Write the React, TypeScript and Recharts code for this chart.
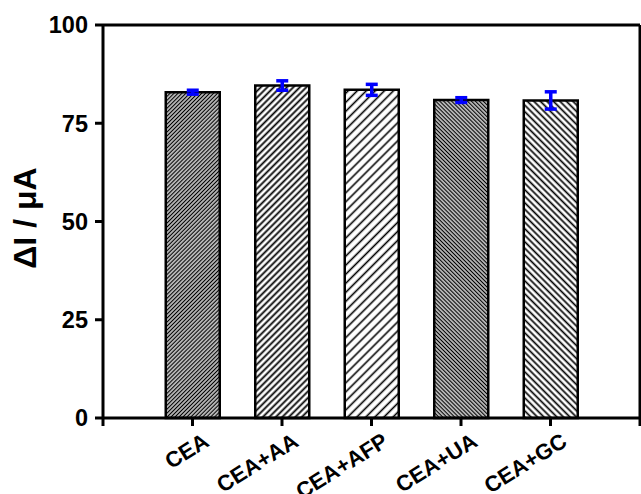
import React from 'react';
import { BarChart, Bar, XAxis, YAxis, ErrorBar, ReferenceLine, Cell } from 'recharts';

const categories = ['CEA', 'CEA+AA', 'CEA+AFP', 'CEA+UA', 'CEA+GC'];
const values = [82.9, 84.6, 83.5, 80.9, 80.8];
const errors = [0.5, 1.2, 1.4, 0.6, 2.2];
const yTicks = [0, 25, 50, 75, 100];
const xTicks = [0, 1, 2, 3, 4, 5, 6];

const data = categories.map((name, i) => ({ pos: i + 1, name, value: values[i], err: errors[i] }));

const FONT = "Arial, 'Liberation Sans', Helvetica, sans-serif";

const patterns = [
  { id: 'p0', s: 2.8, w: 1.5, rot: 45 },
  { id: 'p1', s: 4.6, w: 1.8, rot: 45 },
  { id: 'p2', s: 6.4, w: 1.6, rot: 45 },
  { id: 'p3', s: 2.8, w: 1.5, rot: -45 },
  { id: 'p4', s: 4.6, w: 1.7, rot: -45 },
];

const XTick = (props: any) => {
  const { x, y, payload } = props;
  const v = payload.value;
  const label = v >= 1 && v <= 5 ? categories[v - 1] : '';
  if (!label) return null;
  return (
    <g transform={`translate(${x},${y})`}>
      <text
        x={0}
        y={0}
        transform="translate(18,17) rotate(-32)"
        textAnchor="end"
        fontFamily={FONT}
        fontWeight="bold"
        fontSize={22}
        fill="#000"
      >
        {label}
      </text>
    </g>
  );
};

const YLabel = () => (
  <text
    x={36}
    y={218}
    transform="rotate(-90, 36, 218)"
    textAnchor="middle"
    fontFamily={FONT}
    fontWeight="bold"
    fontSize={32}
    fill="#000"
  >
    ΔI / μA
  </text>
);

export default function App() {
  return (
    <div style={{ position: 'absolute', left: 0, top: 0, background: '#fff' }}>
      <BarChart
        width={641}
        height={494}
        data={data}
        margin={{ top: 25, right: 1, bottom: 16, left: 0 }}
      >
        <defs>
          {patterns.map((p) => (
            <pattern
              key={p.id}
              id={p.id}
              width={p.s}
              height={p.s}
              patternUnits="userSpaceOnUse"
              patternTransform={`rotate(${p.rot})`}
            >
              <rect x={0} y={0} width={p.s} height={p.s} fill="#fff" />
              <line x1={p.s / 2} y1={-1} x2={p.s / 2} y2={p.s + 1} stroke="#000" strokeWidth={p.w} />
            </pattern>
          ))}
        </defs>
        <XAxis
          dataKey="pos"
          type="number"
          domain={[0, 6]}
          ticks={xTicks}
          interval={0}
          height={60}
          tickSize={8}
          tickMargin={2}
          axisLine={{ stroke: '#000', strokeWidth: 3 }}
          tickLine={{ stroke: '#000', strokeWidth: 3 }}
          tick={<XTick />}
          allowDataOverflow
        />
        <YAxis
          type="number"
          domain={[0, 100]}
          ticks={yTicks}
          interval={0}
          width={103}
          tickSize={8}
          tickMargin={7}
          axisLine={{ stroke: '#000', strokeWidth: 3 }}
          tickLine={{ stroke: '#000', strokeWidth: 3 }}
          tick={{ fill: '#000', fontFamily: FONT, fontWeight: 'bold', fontSize: 23.5 }}
          label={<YLabel />}
        />
        <ReferenceLine y={100} stroke="#000" strokeWidth={3} />
        <ReferenceLine x={6} stroke="#000" strokeWidth={3} />
        <Bar dataKey="value" barSize={54} stroke="#000" strokeWidth={2.5} isAnimationActive={false}>
          {data.map((d, i) => (
            <Cell key={d.name} fill={`url(#${patterns[i].id})`} />
          ))}
          <ErrorBar dataKey="err" width={6} strokeWidth={3.5} stroke="#0000ff" direction="y" isAnimationActive={false} />
        </Bar>
      </BarChart>
    </div>
  );
}
